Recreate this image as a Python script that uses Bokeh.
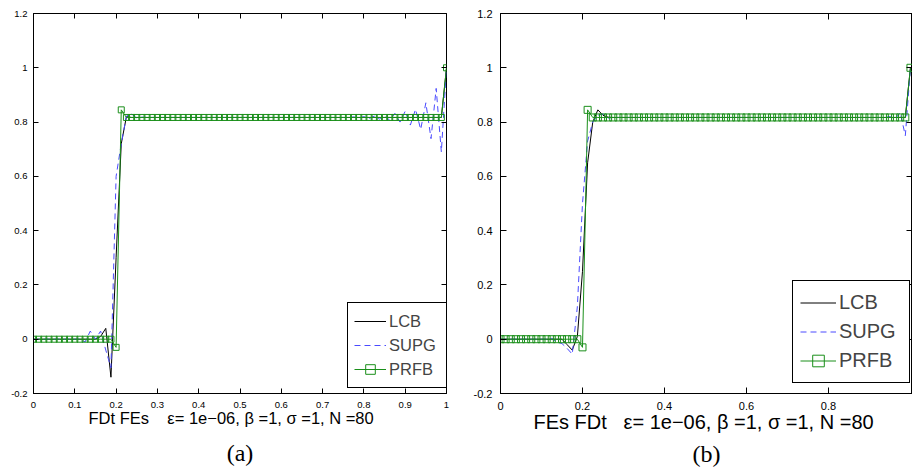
from bokeh.plotting import figure
from bokeh.layouts import row
from bokeh.models import Range1d, FixedTicker, LinearAxis, Legend, LegendItem, Title
from bokeh.embed import file_html
from bokeh.resources import INLINE

# ---------------- data ----------------
N = 80
x_nodes = [i / N for i in range(N + 1)]  # mesh nodes, N = 80

# panel (a): FDt FEs
lcb_a = [
    0.0, 0.0, 0.0, 0.0, 0.0, 0.0, 0.0, 0.0, 0.0, 0.0,
    0.0, 0.0, 0.0, 0.01, 0.04, -0.14, 0.3, 0.72, 0.82, 0.817,
    0.817, 0.817, 0.817, 0.817, 0.817, 0.817, 0.817, 0.817, 0.817, 0.817,
    0.817, 0.817, 0.817, 0.817, 0.817, 0.817, 0.817, 0.817, 0.817, 0.817,
    0.817, 0.817, 0.817, 0.817, 0.817, 0.817, 0.817, 0.817, 0.817, 0.817,
    0.817, 0.817, 0.817, 0.817, 0.817, 0.817, 0.817, 0.817, 0.817, 0.817,
    0.817, 0.817, 0.817, 0.817, 0.817, 0.817, 0.817, 0.817, 0.817, 0.817,
    0.817, 0.817, 0.817, 0.817, 0.817, 0.817, 0.817, 0.817, 0.817, 0.817,
    1.0,
]
supg_a = [
    0.0, 0.0, 0.0, 0.0, 0.0, 0.0, 0.0, 0.0, 0.0, 0.0,
    -0.01, 0.03, 0.0, 0.03, -0.04, -0.105, 0.6, 0.72, 0.822, 0.83,
    0.814, 0.818, 0.817, 0.817, 0.817, 0.817, 0.817, 0.817, 0.817, 0.817,
    0.817, 0.817, 0.817, 0.817, 0.817, 0.817, 0.817, 0.817, 0.817, 0.817,
    0.817, 0.817, 0.817, 0.817, 0.817, 0.817, 0.817, 0.817, 0.817, 0.817,
    0.817, 0.817, 0.817, 0.817, 0.817, 0.817, 0.817, 0.817, 0.817, 0.817,
    0.817, 0.816, 0.819, 0.815, 0.820, 0.813, 0.822, 0.811, 0.826, 0.806,
    0.832, 0.800, 0.840, 0.789, 0.847, 0.773, 0.871, 0.739, 0.924, 0.690,
    1.0,
]
prfb_a = [
    0.0, 0.0, 0.0, 0.0, 0.0, 0.0, 0.0, 0.0, 0.0, 0.0,
    0.0, 0.0, 0.0, 0.0, 0.0, 0.0, -0.03, 0.845, 0.817, 0.817,
    0.817, 0.817, 0.817, 0.817, 0.817, 0.817, 0.817, 0.817, 0.817, 0.817,
    0.817, 0.817, 0.817, 0.817, 0.817, 0.817, 0.817, 0.817, 0.817, 0.817,
    0.817, 0.817, 0.817, 0.817, 0.817, 0.817, 0.817, 0.817, 0.817, 0.817,
    0.817, 0.817, 0.817, 0.817, 0.817, 0.817, 0.817, 0.817, 0.817, 0.817,
    0.817, 0.817, 0.817, 0.817, 0.817, 0.817, 0.817, 0.817, 0.817, 0.817,
    0.817, 0.817, 0.817, 0.817, 0.817, 0.817, 0.817, 0.817, 0.817, 0.817,
    1.0,
]

# panel (b): FEs FDt
lcb_b = [
    0.0, 0.0, 0.0, 0.0, 0.0, 0.0, 0.0, 0.0, 0.0, 0.0,
    0.0, 0.0, 0.0, -0.02, -0.04, 0.01, 0.25, 0.65, 0.80, 0.845,
    0.825, 0.818, 0.817, 0.817, 0.817, 0.817, 0.817, 0.817, 0.817, 0.817,
    0.817, 0.817, 0.817, 0.817, 0.817, 0.817, 0.817, 0.817, 0.817, 0.817,
    0.817, 0.817, 0.817, 0.817, 0.817, 0.817, 0.817, 0.817, 0.817, 0.817,
    0.817, 0.817, 0.817, 0.817, 0.817, 0.817, 0.817, 0.817, 0.817, 0.817,
    0.817, 0.817, 0.817, 0.817, 0.817, 0.817, 0.817, 0.817, 0.817, 0.817,
    0.817, 0.817, 0.817, 0.817, 0.817, 0.817, 0.817, 0.817, 0.817, 0.817,
    1.0,
]
supg_b = [
    0.0, 0.0, 0.0, 0.0, 0.0, 0.0, 0.0, 0.0, 0.0, 0.0,
    0.003, -0.01, -0.016, -0.034, -0.055, 0.12, 0.5, 0.73, 0.80, 0.825,
    0.83, 0.815, 0.817, 0.817, 0.817, 0.817, 0.817, 0.817, 0.817, 0.817,
    0.817, 0.817, 0.817, 0.817, 0.817, 0.817, 0.817, 0.817, 0.817, 0.817,
    0.817, 0.817, 0.817, 0.817, 0.817, 0.817, 0.817, 0.817, 0.817, 0.817,
    0.817, 0.817, 0.817, 0.817, 0.817, 0.817, 0.817, 0.817, 0.817, 0.817,
    0.817, 0.817, 0.817, 0.817, 0.817, 0.817, 0.817, 0.817, 0.817, 0.817,
    0.817, 0.817, 0.817, 0.817, 0.817, 0.817, 0.82, 0.812, 0.835, 0.75,
    1.0,
]
prfb_b = [
    0.0, 0.0, 0.0, 0.0, 0.0, 0.0, 0.0, 0.0, 0.0, 0.0,
    0.0, 0.0, 0.0, 0.0, 0.0, 0.0, -0.03, 0.845, 0.817, 0.817,
    0.817, 0.817, 0.817, 0.817, 0.817, 0.817, 0.817, 0.817, 0.817, 0.817,
    0.817, 0.817, 0.817, 0.817, 0.817, 0.817, 0.817, 0.817, 0.817, 0.817,
    0.817, 0.817, 0.817, 0.817, 0.817, 0.817, 0.817, 0.817, 0.817, 0.817,
    0.817, 0.817, 0.817, 0.817, 0.817, 0.817, 0.817, 0.817, 0.817, 0.817,
    0.817, 0.817, 0.817, 0.817, 0.817, 0.817, 0.817, 0.817, 0.817, 0.817,
    0.817, 0.817, 0.817, 0.817, 0.817, 0.817, 0.817, 0.817, 0.817, 0.817,
    1.0,
]

series_names = ["LCB", "SUPG", "PRFB"]

x_ticks_a = [0, 0.1, 0.2, 0.3, 0.4, 0.5, 0.6, 0.7, 0.8, 0.9, 1]
x_labels_a = ["0", "0.1", "0.2", "0.3", "0.4", "0.5", "0.6", "0.7", "0.8", "0.9", "1"]
x_ticks_b = [0, 0.2, 0.4, 0.6, 0.8]
x_labels_b = ["0", "0.2", "0.4", "0.6", "0.8"]
y_ticks = [-0.2, 0, 0.2, 0.4, 0.6, 0.8, 1, 1.2]
y_labels = ["-0.2", "0", "0.2", "0.4", "0.6", "0.8", "1", "1.2"]

# non-breaking spaces keep the wide gap of the original label
xlabel_a = "FDt FEs\u00a0\u00a0\u00a0 ε= 1e−06, β =1, σ =1, N =80"
xlabel_b = "FEs FDt\u00a0\u00a0 ε= 1e−06, β =1, σ =1, N =80"
caption_a = "(a)"
caption_b = "(b)"

# ---------------- styling ----------------
SANS = "Liberation Sans"
SERIF = "Liberation Serif"
C_LCB = "black"
C_SUPG = "#4a4aff"
C_PRFB = "#1a8f1a"


def build(width, x_end, border_left, border_right, lcb, supg, prfb,
          xt, xl, tick_font, tick_in, y_standoff, x_standoff,
          xlabel, xlabel_font, xlabel_offset, caption, caption_standoff,
          leg_loc, leg_font, leg_gw, leg_gh, leg_lw, leg_pad, marker_size):
    p = figure(width=width, height=470,
               x_range=Range1d(0, x_end), y_range=Range1d(-0.2, 1.2),
               output_backend="svg", toolbar_location=None,
               min_border_left=border_left, min_border_right=border_right,
               min_border_top=13, min_border_bottom=77,
               background_fill_color="white", border_fill_color="white")
    p.xgrid.visible = False
    p.ygrid.visible = False
    p.outline_line_color = "black"
    p.outline_line_width = 1
    p.outline_line_alpha = 1

    for ax, ticks, labels, standoff in ((p.xaxis[0], xt, xl, x_standoff),
                                        (p.yaxis[0], y_ticks, y_labels, y_standoff)):
        ax.ticker = FixedTicker(ticks=ticks)
        ax.major_label_overrides = dict(zip(ticks, labels))
        ax.major_label_text_font = SANS
        ax.major_label_text_font_size = tick_font
        ax.major_label_text_color = "black"
        ax.major_label_standoff = standoff
        ax.major_tick_in = tick_in
        ax.major_tick_out = 0
        ax.minor_tick_in = 0
        ax.minor_tick_out = 0
        ax.axis_line_color = "black"
        ax.major_tick_line_color = "black"

    # mirrored ticks on top and right
    for side, ticks in (("above", xt), ("right", y_ticks)):
        ax = LinearAxis(ticker=FixedTicker(ticks=ticks),
                        major_label_text_font_size="0px",
                        major_label_text_color=None,
                        major_label_standoff=0,
                        major_tick_in=tick_in, major_tick_out=0,
                        minor_tick_in=0, minor_tick_out=0,
                        axis_line_color=None, major_tick_line_color="black")
        p.add_layout(ax, side)

    r_lcb = p.line(x_nodes, lcb, line_color=C_LCB, line_width=1)
    r_supg = p.line(x_nodes, supg, line_color=C_SUPG, line_width=1, line_dash="6 4")
    r_prfb = p.line(x_nodes, prfb, line_color=C_PRFB, line_width=1)
    r_prfb_m = p.scatter(x_nodes, prfb, marker="square", size=marker_size,
                         line_color=C_PRFB, fill_color=None, line_width=1)

    legend = Legend(items=[LegendItem(label=series_names[0], renderers=[r_lcb]),
                           LegendItem(label=series_names[1], renderers=[r_supg]),
                           LegendItem(label=series_names[2], renderers=[r_prfb, r_prfb_m])],
                    location=leg_loc, orientation="vertical",
                    label_text_font=SANS, label_text_font_size=leg_font,
                    glyph_width=leg_gw, glyph_height=leg_gh, label_height=leg_gh,
                    label_width=leg_lw, label_standoff=3, padding=leg_pad,
                    spacing=0, margin=0,
                    border_line_color="black", border_line_width=1, border_line_alpha=1,
                    background_fill_color="white", background_fill_alpha=1)
    p.add_layout(legend)

    # x-axis caption line (offset to the left like the original)
    p.add_layout(Title(text=xlabel, align="left", offset=xlabel_offset,
                       text_font=SANS, text_font_size=xlabel_font,
                       text_font_style="normal", text_color="black",
                       vertical_align="top", standoff=-4), "below")
    # sub-figure caption "(a)" / "(b)" as the label of an empty bottom axis
    cap = LinearAxis(ticker=FixedTicker(ticks=[]), axis_line_color=None,
                     major_tick_line_color=None, minor_tick_line_color=None,
                     major_label_text_font_size="0px", major_label_text_color=None,
                     major_label_standoff=0, major_tick_in=0, major_tick_out=0,
                     minor_tick_in=0, minor_tick_out=0,
                     axis_label=caption, axis_label_standoff=caption_standoff,
                     axis_label_text_font=SERIF, axis_label_text_font_size="24px",
                     axis_label_text_font_style="normal", axis_label_text_color="black")
    p.add_layout(cap, "below")
    return p


p1 = build(460, 1.0, 33, 14, lcb_a, supg_a, prfb_a,
           x_ticks_a, x_labels_a, "9.5px", 5, 6, 8,
           xlabel_a, "16.5px", 55, caption_a, 13,
           (314, 5), "16.5px", 32, 24, 52, 6, 6)
p2 = build(452, 1.005, 40, 0, lcb_b, supg_b, prfb_b,
           x_ticks_b, x_labels_b, "11px", 6, 8, 8,
           xlabel_b, "20px", 33, caption_b, 8,
           (292, 10), "20px", 36, 29, 63, 7, 7)

layout = row(p1, p2, spacing=0)
open("out.html", "w").write(file_html(layout, INLINE))
